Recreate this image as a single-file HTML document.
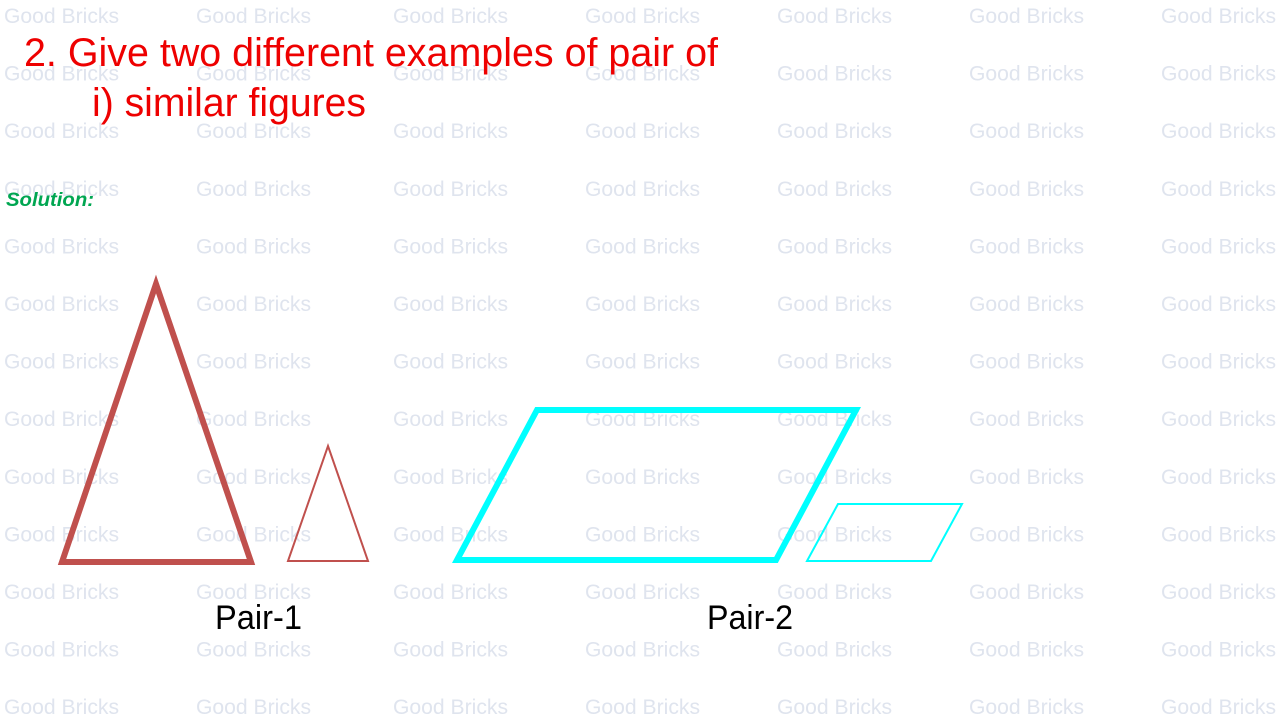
<!DOCTYPE html>
<html><head><meta charset="utf-8"><style>
html,body{margin:0;padding:0;background:#fff;}
svg{display:block;}
.w{font-family:"Liberation Sans",sans-serif;font-size:21px;fill:#dfe4ee;}
</style></head><body>
<svg width="1280" height="720" xmlns="http://www.w3.org/2000/svg">
<g class="w">
<g id="r"><text x="4" y="23" textLength="115" lengthAdjust="spacingAndGlyphs">Good Bricks</text><text x="196" y="23" textLength="115" lengthAdjust="spacingAndGlyphs">Good Bricks</text><text x="393" y="23" textLength="115" lengthAdjust="spacingAndGlyphs">Good Bricks</text><text x="585" y="23" textLength="115" lengthAdjust="spacingAndGlyphs">Good Bricks</text><text x="777" y="23" textLength="115" lengthAdjust="spacingAndGlyphs">Good Bricks</text><text x="969" y="23" textLength="115" lengthAdjust="spacingAndGlyphs">Good Bricks</text><text x="1161" y="23" textLength="115" lengthAdjust="spacingAndGlyphs">Good Bricks</text></g>
<use href="#r" y="57.6"/><use href="#r" y="115.2"/><use href="#r" y="172.8"/><use href="#r" y="230.4"/><use href="#r" y="288"/><use href="#r" y="345.6"/><use href="#r" y="403.2"/><use href="#r" y="460.8"/><use href="#r" y="518.4"/><use href="#r" y="576"/><use href="#r" y="633.6"/><use href="#r" y="691.2"/>
</g>
<g font-family="Liberation Sans, sans-serif" fill="#ee0000" font-size="40">
<text x="24" y="66" textLength="694" lengthAdjust="spacingAndGlyphs">2. Give two different examples of pair of</text>
<text x="92" y="116" textLength="274" lengthAdjust="spacingAndGlyphs">i) similar figures</text>
</g>
<text x="6" y="206" font-family="Liberation Sans, sans-serif" font-size="19" font-weight="bold" font-style="italic" fill="#00a651" textLength="88" lengthAdjust="spacingAndGlyphs">Solution:</text>
<polygon points="156,284 251,562 62,562" fill="none" stroke="#c0504d" stroke-width="6"/>
<polygon points="328,446 368,561 288,561" fill="none" stroke="#c0504d" stroke-width="2"/>
<polygon points="537,410 856,410 776,560 457,560" fill="none" stroke="#00ffff" stroke-width="6"/>
<polygon points="838,504 962,504 931,561 807,561" fill="none" stroke="#00ffff" stroke-width="2"/>
<g font-family="Liberation Sans, sans-serif" font-size="34" fill="#000">
<text x="215" y="629" textLength="87" lengthAdjust="spacingAndGlyphs">Pair-1</text>
<text x="707" y="629" textLength="86" lengthAdjust="spacingAndGlyphs">Pair-2</text>
</g>
</svg>
</body></html>
